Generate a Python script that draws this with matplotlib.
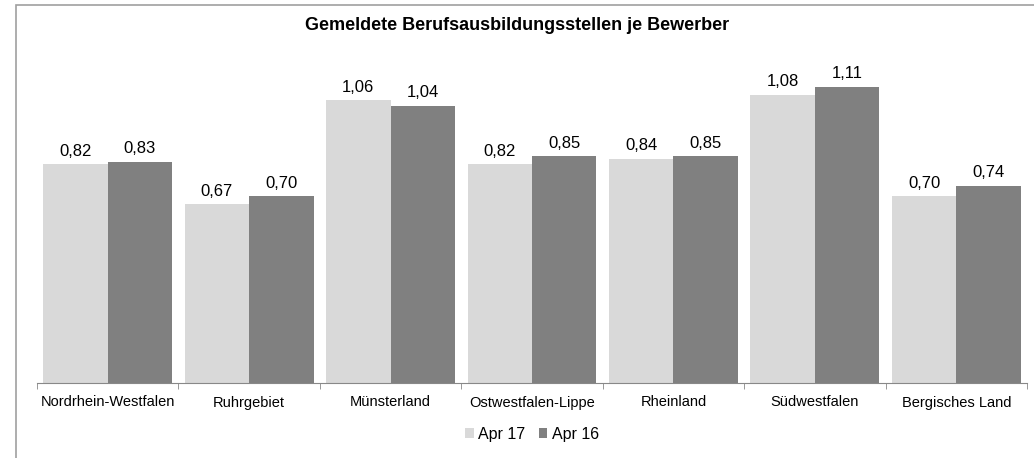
import matplotlib
matplotlib.use("Agg")
import matplotlib.pyplot as plt
import numpy as np
from matplotlib.patches import Rectangle

plt.rcParams['font.family'] = ['Liberation Sans', 'DejaVu Sans']

categories = ["Nordrhein-Westfalen", "Ruhrgebiet", "Münsterland", "Ostwestfalen-Lippe",
              "Rheinland", "Südwestfalen", "Bergisches Land"]
apr17 = [0.82, 0.67, 1.06, 0.82, 0.84, 1.08, 0.70]
apr16 = [0.83, 0.70, 1.04, 0.85, 0.85, 1.11, 0.74]
series_names = ["Apr 17", "Apr 16"]
title = "Gemeldete Berufsausbildungsstellen je Bewerber"

c_light = "#d9d9d9"
c_dark = "#808080"

fig = plt.figure(figsize=(10.34, 4.58), dpi=100)
fig.patches.append(Rectangle((16/1034, -0.1), 1.2, (453/458)+0.1, transform=fig.transFigure,
                             fill=False, edgecolor="#a0a0a0", linewidth=1.2))
ax = fig.add_axes([37/1034, 75/458, 990/1034, 320/458])

x = np.arange(len(categories))
w = 0.456
b1 = ax.bar(x - w/2, apr17, w, color=c_light, label=series_names[0])
b2 = ax.bar(x + w/2, apr16, w, color=c_dark, label=series_names[1])

for bars, vals in ((b1, apr17), (b2, apr16)):
    for r, v in zip(bars, vals):
        ax.annotate(f"{v:.2f}".replace(".", ","), (r.get_x() + r.get_width()/2, v),
                    xytext=(0, 4), textcoords="offset points", ha="center", va="bottom",
                    fontsize=12, color="#000000")

ax.set_xlim(-0.5, len(categories) - 0.5)
ax.set_ylim(0, 1.2)
ax.set_yticks([])
for s in ("left", "right", "top"):
    ax.spines[s].set_visible(False)
ax.spines["bottom"].set_color("#888888")
ax.set_xticks(x)
ax.set_xticklabels(categories, fontsize=10.5)
ax.tick_params(axis="x", length=0, pad=9)
ax.set_xticks(np.arange(len(categories) + 1) - 0.5, minor=True)
ax.tick_params(axis="x", which="minor", length=4, color="#888888")

fig.text(0.5, 1 - 25/458, title, ha="center", va="center", fontsize=13, fontweight="bold")

leg = ax.legend(loc="center", bbox_to_anchor=(0.5, -0.16), ncol=2, frameon=False, fontsize=11.5,
                handlelength=0.52, handleheight=0.52, handletextpad=0.26, columnspacing=0.9)

fig.savefig("out.png", dpi=100)
